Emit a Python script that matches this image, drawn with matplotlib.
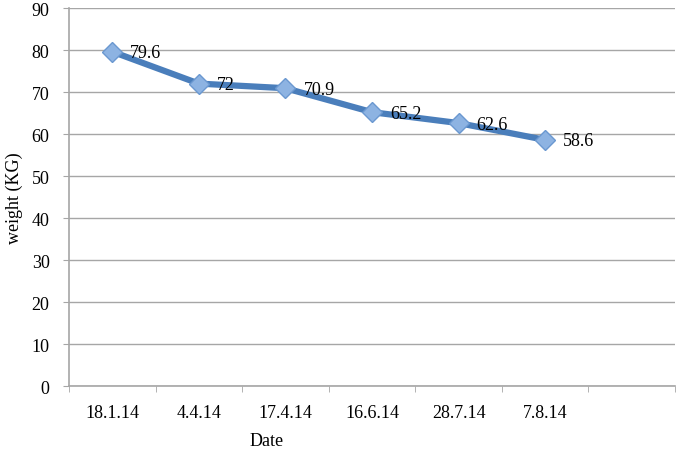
import matplotlib; matplotlib.use('Agg')
import matplotlib.pyplot as plt
import numpy as np

plt.rcParams['font.family'] = ['Liberation Serif', 'DejaVu Serif']

dates = ['18.1.14', '4.4.14', '17.4.14', '16.6.14', '28.7.14', '7.8.14']
weight = [79.6, 72, 70.9, 65.2, 62.6, 58.6]
labels = ['79.6', '72', '70.9', '65.2', '62.6', '58.6']
n_slots = 7  # excel leaves one empty category at the end

GRID = '#a6a6a6'
BLUE = '#4a7ebb'
FS = 13

f = plt.figure(figsize=(6.79, 4.52), dpi=100)
a = f.add_axes([69/679, 1-387/452, (675-69)/679, (387-9)/452])

x = np.arange(len(dates))
a.plot(x, weight, color=BLUE, lw=4.5, solid_capstyle='round', zorder=3)
a.plot(x, weight, ls='none', marker='D', ms=10, mfc='#8db3e2', mec='#6a98d0', mew=1, zorder=4)
for xi, yi, t in zip(x, weight, labels):
    a.annotate(t, (xi, yi), xytext=(18, -1), textcoords='offset pixels',
               ha='left', va='center', fontsize=FS, color='black', zorder=5)

a.set_xlim(-0.5, n_slots-0.5)
a.set_ylim(0, 90)
a.set_yticks(np.arange(0, 91, 10))
a.set_xticks(x)
a.set_xticklabels(dates)
a.set_xticks(np.arange(n_slots+1)-0.5, minor=True)
a.tick_params(axis='x', which='major', length=0, pad=13, labelsize=FS)
a.tick_params(axis='x', which='minor', length=4, color=GRID, direction='out')
a.tick_params(axis='y', length=4, color=GRID, pad=10, labelsize=FS)
a.grid(axis='y', color=GRID, lw=1)
a.set_axisbelow(True)
for s in ('top', 'right'):
    a.spines[s].set_visible(False)
for s in ('left', 'bottom'):
    a.spines[s].set_color(GRID)
    a.spines[s].set_linewidth(1.2)

a.set_xlabel('Date', fontsize=FS, va='center')
a.xaxis.set_label_coords((267-69)/606, (387-442)/378)
a.set_ylabel('weight (KG)', fontsize=FS, va='center')
a.yaxis.set_label_coords((14-69)/606, 0.5)

plt.savefig('out.png', dpi=100, facecolor='w')
plt.close()
